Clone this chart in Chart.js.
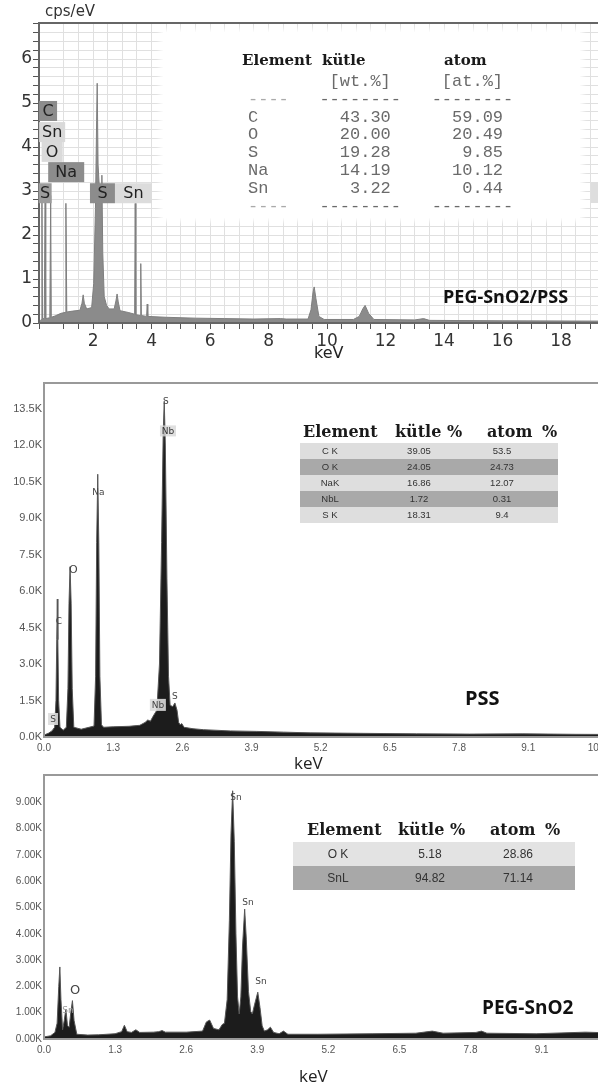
<!DOCTYPE html>
<html><head><meta charset="utf-8">
<script src="https://cdn.jsdelivr.net/npm/chart.js@4.4.1/dist/chart.umd.min.js"></script>
<style>
html,body{margin:0;padding:0;background:#fff;}
body{width:598px;height:1088px;overflow:hidden;position:relative;}
canvas{position:absolute;left:0;}
.t{position:absolute;white-space:pre;}
.hd{position:absolute;font-family:"DejaVu Serif",serif;font-weight:bold;font-size:15px;color:#1a1a1a;line-height:18px;}
.nm{position:absolute;font-family:"Open Sans",sans-serif;font-weight:bold;color:#111;}
.row{position:absolute;left:0;}
.cell{position:absolute;top:0;text-align:center;font-family:"Liberation Sans",Arial,sans-serif;color:#333;}
</style></head><body>
<canvas id="c1" width="640" height="370" style="top:0px"></canvas>
<canvas id="c2" width="640" height="400" style="top:370px"></canvas>
<canvas id="c3" width="640" height="318" style="top:770px"></canvas>

<!-- panel 1 overlays -->
<div class="t" style="left:45px;top:2px;font:15px 'DejaVu Sans',sans-serif;color:#333;">cps/eV</div>
<div style="position:absolute;left:163px;top:32px;width:417px;height:186px;background:#fff;box-shadow:0 0 5px 3px #fff;"></div>
<div style="position:absolute;left:591px;top:182px;width:7px;height:21px;background:#dedede;"></div>
<div class="hd" style="left:242px;top:51px;">Element</div>
<div class="hd" style="left:322px;top:51px;">kütle</div>
<div class="hd" style="left:444px;top:51px;">atom</div>
<div id="mono1" class="t" style="left:248px;top:73px;font:17px 'Liberation Mono',monospace;line-height:17.8px;color:#6a6a6a;"></div>
<div class="nm" style="left:443px;top:284px;font-size:18px;line-height:24px;">PEG-SnO2/PSS</div>
<div class="t" style="left:314px;top:343px;font:16px 'DejaVu Sans',sans-serif;color:#222;">keV</div>

<!-- panel 2 overlays -->
<div class="hd" style="left:303px;top:423px;font-size:16px;">Element</div>
<div class="hd" style="left:395px;top:423px;font-size:16px;">kütle %</div>
<div class="hd" style="left:487px;top:423px;font-size:16px;word-spacing:4px;">atom %</div>
<div id="tab2" style="position:absolute;left:300px;top:443px;width:258px;"></div>
<div class="nm" style="left:465px;top:685px;font-size:20px;line-height:26px;">PSS</div>
<div class="t" style="left:294px;top:751px;font:17px 'Open Sans',sans-serif;color:#222;">keV</div>

<!-- panel 3 overlays -->
<div class="hd" style="left:307px;top:821px;font-size:16px;">Element</div>
<div class="hd" style="left:398px;top:821px;font-size:16px;">kütle %</div>
<div class="hd" style="left:490px;top:821px;font-size:16px;word-spacing:4px;">atom %</div>
<div id="tab3" style="position:absolute;left:293px;top:842px;width:282px;"></div>
<div class="nm" style="left:482px;top:994px;font-size:19px;line-height:26px;">PEG-SnO2</div>
<div class="t" style="left:299px;top:1064px;font:17px 'Open Sans',sans-serif;color:#222;">keV</div>

<script>
// ---------- DATA ----------
// Panel 1: PEG-SnO2/PSS (cps/eV vs keV)
const pegPssKeV = [0.15,0.20,0.23,0.25,0.27,0.33,0.36,0.38,0.52,0.55,0.57,0.70,0.90,1.04,1.07,1.10,1.30,1.55,1.62,1.66,1.70,1.78,1.95,2.02,2.08,2.12,2.14,2.17,2.22,2.27,2.30,2.33,2.38,2.46,2.55,2.72,2.78,2.82,2.86,2.92,3.20,3.42,3.44,3.46,3.61,3.63,3.65,3.83,3.85,3.87,4.5,5.5,6.5,7.5,8.4,8.6,9.35,9.45,9.52,9.56,9.62,9.72,9.9,10.9,11.10,11.22,11.30,11.42,11.60,13.0,13.3,13.5,16.0,20.7];
const pegPssCps = [0.04,0.06,0.08,3.05,0.10,0.10,2.95,0.10,0.12,2.90,0.13,0.16,0.22,0.24,2.72,0.25,0.27,0.29,0.45,0.64,0.45,0.32,0.35,0.90,2.60,4.60,5.45,3.60,3.00,3.05,3.36,1.60,0.60,0.40,0.32,0.32,0.50,0.66,0.48,0.28,0.24,0.20,2.72,0.19,0.17,1.35,0.17,0.15,0.43,0.15,0.13,0.11,0.10,0.09,0.10,0.09,0.09,0.30,0.70,0.82,0.55,0.15,0.08,0.08,0.15,0.32,0.40,0.22,0.08,0.07,0.10,0.06,0.05,0.04];
const pegPssPeakNames = ['C','Sn','O','Na','S','S','Sn'];
const pegPssPeakKeV   = [0.46,0.60,0.60,1.08,0.36,2.32,3.38];
const pegPssPeakLevel = [4.82,4.34,3.89,3.43,2.95,2.95,2.95];
const pegPssLabelsY = [0,1,2,3,4,5,6];
const pegPssLabelsX = [2,4,6,8,10,12,14,16,18,20];

// Panel 2: PSS (counts vs keV)
const pssKeV = [0.00,0.08,0.15,0.20,0.225,0.24,0.25,0.26,0.275,0.30,0.36,0.42,0.45,0.47,0.49,0.51,0.53,0.56,0.70,0.94,0.97,0.99,1.01,1.03,1.05,1.08,1.12,1.30,1.60,1.80,1.90,1.95,2.00,2.05,2.12,2.17,2.21,2.24,2.26,2.28,2.31,2.34,2.37,2.42,2.46,2.50,2.53,2.56,2.59,2.63,2.80,3.00,3.5,4.0,4.5,5.0,6.0,7.0,8.0,9.0,10.0,11.2];
const pssCounts = [80,150,250,400,1500,4000,5670,4000,1500,400,280,400,2000,5500,7000,5500,2000,400,320,450,2500,8000,10800,8000,2500,500,400,420,440,480,600,700,650,850,1100,3000,8000,12500,13800,12000,6500,2500,1300,1250,1400,1100,600,500,550,400,340,300,250,230,200,170,150,130,120,130,110,100];
const pssPeakNames = ['S','Nb','Na','O','C','S','Nb','S'];
const pssPeakKeV   = [2.29,2.33,1.02,0.55,0.28,0.17,2.14,2.46];
const pssPeakLevel = [13810,12580,10070,6900,4770,740,1320,1690];
const pssTicksX = [0,1.3,2.6,3.9,5.2,6.5,7.8,9.1,10.4];
const pssTicksY = [0,1500,3000,4500,6000,7500,9000,10500,12000,13500];
const pssTable = [['C K','39.05','53.5'],['O K','24.05','24.73'],['NaK','16.86','12.07'],['NbL','1.72','0.31'],['S K','18.31','9.4']];

// Panel 3: PEG-SnO2 (counts vs keV)
const snKeV = [0.00,0.12,0.20,0.24,0.27,0.29,0.31,0.34,0.37,0.40,0.43,0.46,0.49,0.52,0.55,0.60,0.80,1.00,1.30,1.42,1.47,1.52,1.60,1.68,1.75,2.00,2.10,2.16,2.22,2.60,2.90,2.97,3.03,3.10,3.20,3.26,3.30,3.35,3.39,3.42,3.45,3.48,3.51,3.54,3.57,3.60,3.63,3.67,3.70,3.74,3.78,3.81,3.85,3.91,3.95,3.99,4.03,4.09,4.14,4.20,4.30,4.38,4.46,5.0,6.0,6.8,7.1,7.3,7.9,8.0,8.1,9.0,9.9,10.9];
const snCounts = [80,120,250,600,2000,2740,1500,350,700,1140,500,450,1000,1460,700,180,150,160,200,280,520,280,250,350,250,260,280,320,260,260,300,650,720,400,350,550,600,1500,4500,7800,9440,7500,4000,1600,950,1600,3500,4940,3800,1800,1050,950,1300,1780,1200,500,300,350,450,250,200,300,180,180,200,220,300,220,250,300,220,200,260,200];
const snPeakNames = ['Sn','Sn','Sn','O','Sn'];
const snPeakKeV   = [3.51,3.73,3.97,0.57,0.44];
const snPeakLevel = [9200,5210,2205,1863,1100];
const snTicksX = [0,1.3,2.6,3.9,5.2,6.5,7.8,9.1,10.4];
const snTicksY = [0,1000,2000,3000,4000,5000,6000,7000,8000,9000];
const snTable = [['O K','5.18','28.86'],['SnL','94.82','71.14']];

// Panel 1 EDS quantification text (monospace block)
const pegPssTable = [['C','43.30','59.09'],['O','20.00','20.49'],['S','19.28','9.85'],['Na','14.19','10.12'],['Sn','3.22','0.44']];

// ---------- TABLES ----------
(function(){
  const pad=(s,n)=>' '.repeat(Math.max(0,n-s.length))+s;
  let lines=['        [wt.%]     [at.%]','<span style="color:#aaa">----</span>   --------   --------'];
  pegPssTable.forEach(r=>{lines.push((r[0]+'       ').slice(0,7)+pad(r[1],7)+pad(r[2],11));});
  lines.push('<span style="color:#aaa">----</span>   --------   --------');
  document.getElementById('mono1').innerHTML=lines.join('\n');

  function build(el, rows, h, fs, colors, centers){
    const box=document.getElementById(el);
    rows.forEach((r,i)=>{
      const d=document.createElement('div');
      d.className='row';
      d.style.cssText=`top:${i*h}px;height:${h}px;width:100%;background:${colors[i%2]};`;
      r.forEach((c,j)=>{
        const s=document.createElement('span');
        s.className='cell';
        s.textContent=c;
        s.style.cssText=`left:${centers[j]-40}px;width:80px;font-size:${fs}px;line-height:${h}px;`;
        d.appendChild(s);
      });
      box.appendChild(d);
    });
  }
  build('tab2', pssTable, 16, 9.5, ['#dedede','#a9a9a9'], [30,119,202]);
  build('tab3', snTable, 24, 12, ['#e3e3e3','#a8a8a8'], [45,137,225]);
})();

// ---------- CHARTS ----------
const framePlugin = {
  id:'frame',
  afterDatasetsDraw(chart, args, o){
    const {ctx, chartArea:a, scales:{x,y}} = chart;
    ctx.save();
    ctx.strokeStyle=o.color; ctx.lineWidth=o.width;
    ctx.beginPath();
    ctx.moveTo(a.right+10,a.top); ctx.lineTo(a.left,a.top); ctx.lineTo(a.left,a.bottom); ctx.lineTo(a.right+10,a.bottom);
    ctx.stroke();
    ctx.textAlign='center'; ctx.textBaseline='middle';
    (o.names||[]).forEach((t,i)=>{
      const px=x.getPixelForValue(o.keV[i]), py=y.getPixelForValue(o.level[i]);
      const st=(o.styles&&o.styles[i])||{};
      ctx.font=st.font||o.font;
      if(st.box){
        ctx.fillStyle=st.box;
        ctx.fillRect(px-st.w/2, py-st.h/2, st.w, st.h);
      }
      ctx.fillStyle=st.color||o.textColor;
      ctx.fillText(t, px, py+1);
    });
    ctx.restore();
  }
};

function makeChart(id, keV, vals, c){
  return new Chart(document.getElementById(id), {
    type:'line',
    data:{datasets:[{data:keV.map((k,i)=>({x:k,y:vals[i]})), fill:'origin', backgroundColor:c.fill, borderColor:c.line, borderWidth:1, pointRadius:0, tension:0}]},
    options:{
      responsive:false, animation:false, devicePixelRatio:1,
      layout:{padding:{top:c.top,left:0,right:0,bottom:0}},
      plugins:{legend:{display:false}, tooltip:{enabled:false}, frame:c.frame},
      scales:{
        x:{type:'linear', min:c.xmin, max:c.xmax,
           afterBuildTicks:c.xTicks?(s=>{s.ticks=c.xTicks.map(v=>({value:v}));}):undefined,
           afterFit(s){s.height=c.xh; s.paddingLeft=0; s.paddingRight=0;},
           border:{display:false},
           grid:c.xgrid,
           ticks:Object.assign({stepSize:c.xstep, autoSkip:false, maxRotation:0, callback:c.xlab}, c.xticks)},
        y:{min:0, max:c.ymax,
           afterBuildTicks:c.yTicks?(s=>{s.ticks=c.yTicks.map(v=>({value:v}));}):undefined,
           afterFit(s){s.width=c.yw; s.paddingTop=0; s.paddingBottom=0;},
           border:{display:false},
           grid:c.ygrid,
           ticks:Object.assign({stepSize:c.ystep, autoSkip:false, callback:c.ylab}, c.yticks)}
      }
    },
    plugins:[framePlugin]
  });
}
const isIn=(v,arr)=>arr.some(a=>Math.abs(a-v)<1e-6);

// Panel 1
makeChart('c1', pegPssKeV, pegPssCps, {
  fill:'#8b8b8b', line:'#7f7f7f', top:23, xh:47, yw:39,
  xmin:0.15, xmax:20.7, xstep:0.5, ymax:6.82, ystep:0.2,
  xlab:v=>isIn(v,pegPssLabelsX)?String(Math.round(v)):'',
  ylab:v=>isIn(v,pegPssLabelsY)?String(Math.round(v)):'',
  xgrid:{color:'#e0e0e0', tickColor:'#555', tickLength:6, drawTicks:true},
  ygrid:{color:'#e0e0e0', tickColor:'#555', tickLength:6, drawTicks:true},
  xticks:{font:{family:'DejaVu Sans', size:17}, color:'#333', padding:2},
  yticks:{font:{family:'DejaVu Sans', size:17}, color:'#333', padding:1},
  frame:{color:'#666', width:2, font:'16px "DejaVu Sans"', textColor:'#222',
    names:pegPssPeakNames, keV:pegPssPeakKeV, level:pegPssPeakLevel,
    styles:[{box:'#8c8c8c',w:18,h:20},{box:'#d9d9d9',w:26,h:20},{box:'#dadada',w:21,h:20},{box:'#8c8c8c',w:36,h:20},{box:'#9c9c9c',w:13,h:20},{box:'#8c8c8c',w:25,h:20},{box:'#dcdcdc',w:37,h:20}]}
});

// Panel 2
makeChart('c2', pssKeV, pssCounts, {
  fill:'#1c1c1c', line:'#555', top:13, xh:33, yw:44,
  xmin:0, xmax:11.2, ymax:14550, xTicks:pssTicksX, yTicks:pssTicksY,
  xlab:v=>v.toFixed(1),
  ylab:v=>(v/1000).toFixed(1)+'K',
  xgrid:{display:false, drawTicks:false}, ygrid:{display:false, drawTicks:false},
  xticks:{font:{family:'Liberation Sans', size:10}, color:'#555', padding:5},
  yticks:{font:{family:'Liberation Sans', size:11}, color:'#555', padding:2},
  frame:{color:'#999', width:2, font:'9px "DejaVu Sans"', textColor:'#444',
    names:pssPeakNames, keV:pssPeakKeV, level:pssPeakLevel,
    styles:[{},{box:'rgba(215,215,215,0.8)',w:16,h:11,color:'#333'},{},{font:'11px "DejaVu Sans"'},{},{box:'rgba(220,220,220,0.9)',w:10,h:12},{box:'rgba(220,220,220,0.9)',w:16,h:12},{}]}
});

// Panel 3
makeChart('c3', snKeV, snCounts, {
  fill:'#1c1c1c', line:'#555', top:5, xh:49, yw:44,
  xmin:0, xmax:10.9, ymax:10040, xTicks:snTicksX, yTicks:snTicksY,
  xlab:v=>v.toFixed(1),
  ylab:v=>(v/1000).toFixed(2)+'K',
  xgrid:{display:false, drawTicks:false}, ygrid:{display:false, drawTicks:false},
  xticks:{font:{family:'Liberation Sans', size:10}, color:'#555', padding:5},
  yticks:{font:{family:'Liberation Sans', size:10}, color:'#555', padding:2},
  frame:{color:'#999', width:2, font:'9px "DejaVu Sans"', textColor:'#444',
    names:snPeakNames, keV:snPeakKeV, level:snPeakLevel,
    styles:[{},{},{},{font:'13px "DejaVu Sans"'},{color:'#999'}]}
});
</script>
</body></html>
